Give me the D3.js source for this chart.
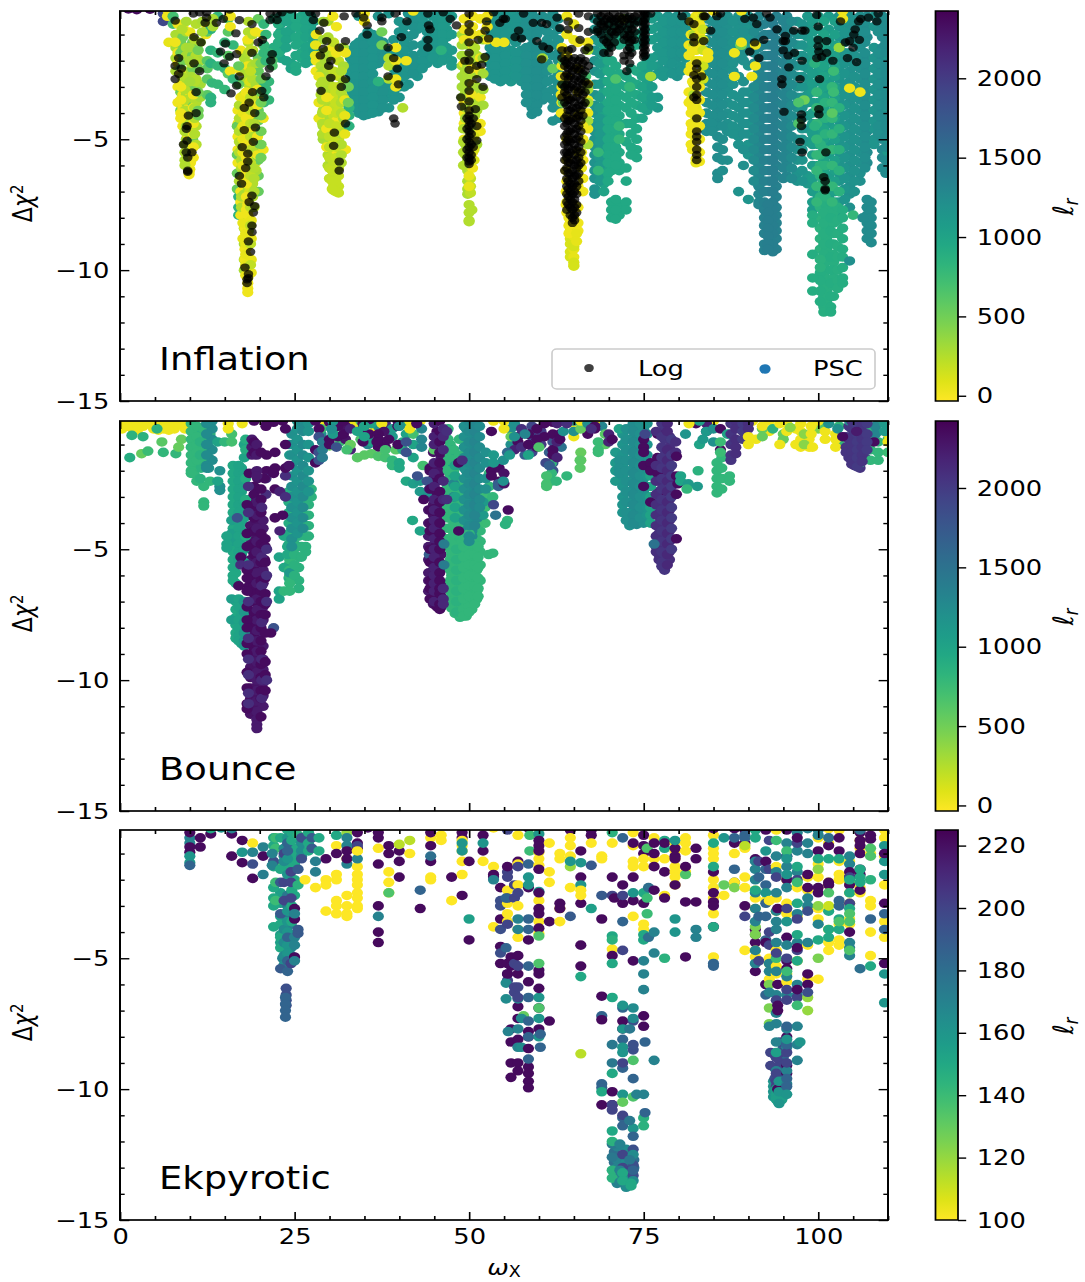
<!DOCTYPE html>
<html>
<head>
<meta charset="utf-8">
<script src="https://cdnjs.cloudflare.com/ajax/libs/d3/7.8.5/d3.min.js"></script>
<style>
	html, body { margin: 0; padding: 0; background: #fff; }
	svg { display: block; }
	text { font-family: "DejaVu Sans", sans-serif; fill: #000; }
</style>
</head>
<body>
<svg></svg>
<script>
// each column is [omega_X, l_r, [delta chi2 ...]]
const inflationBand = [
	[1.2,2350,[-.02]],[2.4,2350,[-.05]],[4.3,2350,[-.03]],
	[33,1150,[-1.6,-1.9,-2.2,-2.5,-2.8,-3.1,-3.4]],[34.2,1150,[-.3,-1.3,-1.6,-1.9,-2.2,-2.5,-2.8,-3.1,-3.4,-3.7,-4]],
	[35.5,1150,[-.9,-1.2,-1.5,-1.8,-2.1,-2.4,-2.7,-3,-3.3,-3.6,-3.9,-4.05]],[37,1170,[-.3,-1.2,-1.5,-1.8,-2.1,-2.8,-3.1,-3.4,-3.7,-3.95]],
	[38.5,1150,[-.2,-1.6,-1.9,-2.8,-3.1,-3.4,-3.8]],[40,1150,[-.5,-.9,-1.8,-2.1,-2.4,-2.7,-3,-3.4]],[41.3,1170,[-.2,-.6,-1.1,-1.5,-1.9,-2.2,-2.5,-2.9]],
	[42.6,1150,[-.2,-.5,-.8,-2,-2.3,-2.6]],[44,1150,[-.2,-.6,-.9,-1.2,-1.5,-1.8,-2.1]],[45.5,1120,[-.2,-.5,-.8,-1.1,-1.5,-1.8,-2.1]],
	[46.8,1100,[-.2,-.5,-.8,-1.1,-1.5,-1.8]],[23,1000,[-.3,-.6,-.9,-1.2,-1.6,-1.9]],[24.5,1000,[-.2,-.5,-.8,-1.1,-2.1,-2.3]],
	[26,950,[-.3,-.6,-.9,-1.3,-1.7,-1.9]],[27.3,1000,[-.3,-.7,-1,-1.4,-1.8,-2]],[22,900,[-.4,-1.5,-1.8]],
	[53,1150,[-.2,-.5,-.8,-1.1,-1.5,-1.8,-2.1,-2.4,-2.6]],[54.5,1150,[-.2,-.5,-.8,-1.1,-1.4,-1.7,-2,-2.3,-2.6,-2.8]],
	[56,1120,[-.2,-.5,-.8,-1.1,-1.6,-1.9,-2.2,-2.5,-2.8]],[57.5,1170,[-.2,-.5,-.8,-1.1,-1.6,-1.9,-2.2,-2.5,-2.8]],
	[59,1220,[-.2,-.5,-.8,-1.1,-1.4,-1.7,-2,-2.3,-2.6,-2.9,-3.2,-3.5,-3.8,-4.05]],[60.5,1220,[-.3,-.8,-1.4,-1.7,-2,-2.3,-2.6,-2.9,-3.2,-3.5]],
	[62,1200,[-.2,-.6,-1,-1.4,-1.8,-2.3,-2.7,-3.1,-3.5,-3.8,-4.3]],[68,1180,[-.4,-.8,-1.2,-1.6,-2,-2.4,-2.9,-3.3,-3.7,-4,-4.4,-4.7,-5,-5.3,-5.6,-5.9,-6.2,-6.5,-6.9,-7.1]],
	[69.3,1000,[-1,-1.4,-1.8,-2.2,-2.8,-3.2,-3.7,-4,-4.3,-4.6,-4.9,-5.2,-5.5,-5.8,-6.1,-6.4,-6.7,-7]],
	[70.4,950,[-.5,-.9,-1.3,-2,-2.5,-3,-3.4,-3.8,-4.2,-4.5,-4.8,-5.2,-5.5,-5.9,-6.2,-7.4,-7.7,-8]],[71.5,950,[-.5,-1,-1.4,-2.5,-2.9,-3.3,-3.7,-4.1,-4.4,-4.8,-5.5,-5.9,-6.2,-7.5,-7.9]],
	[72.5,950,[-.4,-.8,-1.3,-2.6,-3,-3.4,-3.8,-4.4,-5.1,-6.1,-6.6,-7.4,-7.7]],[74,950,[-.5,-1,-1.4,-2.4,-2.9,-3.3,-3.7,-4.2,-4.6,-5,-5.4,-5.7]],
	[75.5,1050,[-.3,-.8,-1.2,-2,-2.4,-2.8,-3.2,-3.6,-3.9]],[77,1100,[-.3,-.7,-1.1,-1.5,-1.8,-2.2,-2.5,-3.4,-3.8]],
	[78.5,1150,[-.3,-.7,-1.1,-1.5,-1.9,-2.3]],[79.8,1170,[-.3,-.7,-1.1,-1.5,-1.9,-2.4,-2.6]],[81,1150,[-.3,-.7,-1.1,-1.5,-1.9]],
	[84,1220,[-.4,-.8,-1.2,-1.6,-2,-2.4,-2.8,-3.2,-3.6,-4,-4.4,-4.7]],[85.6,1240,[-.3,-.7,-1.1,-1.5,-1.9,-2.3,-2.7,-3.1,-3.5,-3.9,-4.2,-4.5,-4.9,-5.3,-5.7,-6.3,-6.5]],
	[87,1200,[-.3,-.7,-1.1,-1.5,-1.9,-2.3,-2.7,-3.1,-3.6,-4,-4.4,-4.7,-5.8]],[88.6,1180,[-.3,-.7,-1.1,-1.5,-1.9,-2.6,-3.4,-3.8,-4.2,-4.6,-4.9,-5.2,-7]],
	[90,1150,[-.3,-.7,-1.1,-1.5,-2.2,-3.2,-3.6,-4,-4.4,-4.8,-5.2,-5.6,-7.3]],[91.5,1300,[-.3,-.7,-1.1,-1.5,-1.9,-2.4,-2.8,-3.2,-3.6,-4,-4.4,-4.8,-5.2,-5.6,-6,-6.4,-6.8,-7.1,-7.4,-7.5]],
	[93,1380,[-.4,-1,-1.4,-1.8,-2.2,-2.6,-3,-3.4,-3.8,-4.2,-4.6,-5,-5.4,-5.8,-6.2,-6.6,-7,-7.6,-7.9,-8.2,-8.5,-8.8,-9.1]],
	[94,1350,[-.3,-.8,-1.2,-1.6,-2,-2.4,-2.8,-3.2,-3.6,-4,-4.4,-4.8,-5.2,-5.6,-6,-6.4,-6.8,-7.2,-7.6,-7.9,-8.2,-8.5,-8.8,-9.2]],
	[95.5,1300,[-.3,-.7,-1.1,-1.5,-1.9,-2.3,-2.7,-3.1,-3.5,-3.9,-4.3,-4.7,-5.1,-5.5,-5.9,-6.4]],
	[97,1180,[-.5,-1,-1.4,-1.8,-2.2,-2.6,-3,-3.4,-3.8,-4.2,-5,-5.4,-5.8,-6.3,-6.6]],[98.5,1100,[-.3,-.7,-1.1,-1.5,-1.9,-2.3,-2.7,-3,-3.3,-3.6,-4.1,-4.6,-5.1,-6.4,-6.7]],
	[100,1050,[-.3,-.8,-1.2,-1.6,-2,-2.4,-2.8,-3.2,-3.6,-4,-4.4,-4.8,-5.2,-5.6,-6,-6.4,-6.8,-7.2]],
	[101.5,1080,[-.3,-.8,-1.2,-1.6,-2,-2.4,-2.8,-3.2,-3.6,-4,-4.4,-4.8,-5.2,-5.6,-6,-6.4,-6.8,-7.2,-7.6]],
	[103,1150,[-.3,-.7,-1.1,-1.5,-1.9,-2.3,-2.7,-3.1,-3.5,-3.9,-4.3,-4.7,-5.1,-5.5,-5.9,-6.3,-6.6,-7,-7.4,-7.9]],
	[104.5,1200,[-.3,-.7,-1.1,-1.7,-2,-2.4,-2.8,-3.2,-3.6,-4,-4.4,-4.8,-5.2,-5.6,-6,-6.4,-6.8,-7.1,-7.6]],
	[106,1200,[-.3,-.7,-1.1,-1.5,-1.9,-2.3,-2.7,-3.1,-3.5,-3.9,-4.3,-4.7,-5.1,-5.5,-5.9,-6.3,-6.6]],[107,1250,[-.3,-.7,-1.1,-1.9,-2.3,-2.7,-3.1,-3.5,-3.9,-4.3,-4.7,-5.1,-5.5,-5.9,-7.3,-7.6,-7.9,-8.2,-8.5,-8.8]],
	[108,1150,[-.3,-.7,-1.5,-1.9,-2.3,-2.7,-3.1,-3.5,-3.9,-4.3,-4.6,-5,-5.2]],[109.2,1250,[-.3,-.7,-1.1,-1.5,-1.9,-2.3,-2.7,-3.1,-3.5,-3.9,-4.3,-4.7,-5,-5.4,-5.7,-6.1]],
	[110,1100,[-2,-3,-4,-5,-5.5]]
];

// second pass over the same regions, between the columns above
const inflationFill = [
	[22.7,900,[-.6,-1,-1.3,-1.7]],[23.8,1000,[-.2,-.5,-.9,-1.2,-1.5,-2]],[25.2,950,[-.4,-.7,-1.1,-1.4,-1.8,-2.2,-2.4]],[26.6,1000,[-.2,-.5,-.8,-1.1,-1.5,-1.8,-2.1]],[27.8,1050,[-.5,-.9,-1.2,-1.6]],
	[33.7,1150,[-1.4,-1.7,-2,-2.3,-2.6,-2.9,-3.2,-3.5,-3.8]],[34.9,1170,[-1.1,-1.4,-1.7,-2,-2.3,-2.6,-2.9,-3.2,-3.5,-3.8,-4.1]],[36.2,1150,[-1,-1.3,-1.6,-1.9,-2.2,-2.5,-2.8,-3.1,-3.4,-3.7,-4]],
	[37.7,1170,[-1.3,-1.6,-1.9,-2.9,-3.2,-3.5,-3.8]],[39.2,1150,[-1.2,-1.6,-1.9,-2.3,-2.6,-2.9,-3.2,-3.5]],[40.7,1150,[-.7,-1,-1.3,-1.6,-2,-2.3,-2.6,-3]],[42,1170,[-.4,-.7,-1,-1.4,-1.8,-2.2,-2.5]],
	[43.3,1150,[-.4,-.7,-1.4,-1.7,-2,-2.3]],[44.8,1120,[-.3,-.7,-1,-1.3,-1.6,-1.9]],[46.2,1100,[-.4,-.7,-1,-1.3,-1.7,-2]],[47.5,1100,[-.3,-1,-1.6,-2,-2.2]],
	[53.7,1150,[-.3,-.6,-.9,-1.2,-1.6,-1.9,-2.2,-2.5,-2.7]],[55.2,1150,[-.3,-.6,-1,-1.3,-1.5,-1.8,-2.1,-2.4,-2.7]],[56.7,1150,[-.4,-.7,-1,-1.3,-1.7,-2,-2.3,-2.6]],[58.2,1200,[-.3,-.6,-1,-1.5,-1.8,-2.1,-2.4,-2.7,-3,-3.3,-3.6]],
	[59.7,1220,[-.4,-.7,-1,-1.5,-1.8,-2.1,-2.4,-2.7,-3,-3.3,-3.7,-3.95]],[61.2,1200,[-.4,-.9,-1.2,-1.6,-2.1,-2.4,-2.8,-3.2,-3.4]],[62.8,1200,[-.4,-.8,-1.2,-1.7,-2,-2.5,-2.9,-3.3,-3.7,-4.2]],
	[68.7,1100,[-.5,-.9,-1.3,-1.7,-2.1,-2.5,-2.9,-3.4,-3.8,-4.2,-4.5,-4.8,-5.1,-5.4,-5.7,-6,-6.3,-6.6]],[69.9,950,[-.7,-1.1,-1.5,-2,-2.4,-2.8,-3.2,-3.6,-3.9,-4.3,-4.6,-5,-5.3,-5.6,-5.9,-6.3,-6.6]],
	[71,950,[-.7,-1.2,-2.2,-2.7,-3.1,-3.5,-3.9,-4.3,-4.6,-5,-5.3,-5.7,-6,-7.3,-7.7,-8.05]],[73.2,950,[-.6,-1.1,-1.5,-2.3,-2.8,-3.2,-3.6,-4,-4.4,-4.8,-5.3,-5.6]],[74.8,1000,[-.5,-.9,-1.3,-2.2,-2.6,-3,-3.4,-3.8,-4.2]],
	[76.2,1080,[-.4,-.8,-1.2,-1.9,-2.2,-2.6,-3,-3.4,-3.7]],[77.8,1120,[-.5,-.9,-1.3,-1.7,-2,-2.4,-2.6]],[79.1,1150,[-.5,-.9,-1.3,-1.7,-2.1,-2.5]],[80.4,1150,[-.5,-.9,-1.3,-1.7,-2.2,-2.4]],[81.2,1150,[-.4,-.8,-1.2,-1.6]],
	[84.8,1220,[-.5,-.9,-1.3,-1.7,-2.1,-2.5,-2.9,-3.3,-3.7,-4.1,-4.4,-4.7]],[86.3,1220,[-.5,-.9,-1.3,-1.7,-2.1,-2.5,-2.9,-3.3,-3.7,-4.1,-4.5,-5,-5.4,-5.8,-6.2]],[87.8,1180,[-.5,-.9,-1.3,-1.7,-2.1,-2.4,-2.9,-3.3,-3.7,-4.1,-4.5,-4.8]],
	[89.3,1200,[-.5,-.9,-1.3,-1.7,-2,-2.8,-3.2,-3.6,-4,-4.4,-4.8,-5.4,-6]],[90.8,1250,[-.5,-.9,-1.3,-1.7,-2.1,-2.6,-3,-3.4,-3.8,-4.2,-4.6,-5,-5.4,-5.8,-6.2,-6.6]],[92.3,1350,[-.6,-1,-1.4,-1.8,-2.2,-2.6,-3,-3.4,-3.8,-4.2,-4.6,-5,-5.4,-5.8,-6.2,-6.6,-7,-7.4,-7.7,-8,-8.3,-8.6,-9,-9.25]],
	[93.5,1380,[-.6,-1,-1.4,-1.8,-2.2,-2.6,-3,-3.4,-3.8,-4.2,-4.6,-5,-5.4,-5.8,-6.2,-6.6,-7,-7.4,-7.7,-8,-8.3,-8.6,-9,-9.3]],[92.8,1380,[-7.5,-7.8,-8.1,-8.4,-8.7,-9,-9.2]],[95,1320,[-.5,-.9,-1.3,-1.7,-2.1,-2.5,-2.9,-3.3,-3.7,-4.1,-4.5,-4.9,-5.3,-5.7,-6.1,-6.5]],
	[96.2,1250,[-.5,-.9,-1.3,-1.7,-2.1,-2.5,-2.9,-3.3,-3.7,-4.1,-4.5,-4.9,-5.3,-5.7,-6.1,-6.5]],[97.7,1150,[-.6,-1,-1.4,-1.8,-2.2,-2.6,-3,-3.4,-3.8,-4.2,-4.6,-5,-5.4,-5.8,-6.2,-6.6]],[99.2,1080,[-.5,-.9,-1.3,-1.7,-2.1,-2.5,-2.9,-3.2,-3.6,-4,-4.4,-4.8,-5.2,-5.6,-6,-6.5,-7,-7.4,-7.7]],
	[100.8,1000,[-.5,-1,-1.4,-1.8,-2.2,-2.6,-3,-3.4,-3.8,-4.2,-4.6,-5,-5.4,-5.8,-6.2,-6.6,-7,-7.4,-7.8]],[102.4,1050,[-.5,-1,-1.4,-1.8,-2.2,-2.6,-3,-3.4,-3.8,-4.2,-4.6,-5,-5.4,-5.8,-6.2,-6.6,-7,-7.4]],[103.8,1150,[-.5,-.9,-1.3,-1.7,-2.1,-2.5,-2.9,-3.3,-3.7,-4.1,-4.5,-4.9,-5.3,-5.7,-6.1,-6.5,-6.9,-7.3]],
	[105.2,1180,[-.5,-.9,-1.3,-1.8,-2.2,-2.6,-3,-3.4,-3.8,-4.2,-4.6,-5,-5.4,-5.8,-6.2,-6.6,-7]],[106.7,1220,[-.5,-.9,-1.3,-1.7,-2.1,-2.5,-2.9,-3.3,-3.7,-4.1,-4.5,-4.9,-5.3,-5.7,-6.1]],[107.6,1250,[-7.4,-7.7,-8,-8.3,-8.6,-8.95]],[108.6,1200,[-.5,-.9,-1.7,-2.1,-2.5,-2.9,-3.3,-3.7,-4.1,-4.5,-4.8]],[109.7,1250,[-.5,-.9,-1.3,-1.7,-2.1,-2.5,-2.9,-3.3,-3.7,-4.1,-4.5,-4.9,-5.3,-5.8,-6.3]]
];

const inflationBandGreen = [
	[100.3,850,[-5.2,-5.6,-6,-6.4,-6.8,-7.2,-7.6,-8,-8.4,-8.8,-9.2]],[101.2,880,[-7.6,-8,-8.4,-8.8,-9.2,-9.6,-10,-10.4,-10.8,-11.2,-11.5]],[100.8,880,[-7.4,-7.8,-8.2,-8.6,-9,-9.4,-9.8,-10.2,-10.6,-11,-11.4,-11.6]],
	[102.2,880,[-7.8,-8.2,-8.6,-9,-9.4,-9.7,-10,-10.3,-10.6,-11]],[101.8,900,[-7.4,-8,-8.5,-9,-9.5,-10,-10.5,-11,-11.4,-11.6]],[102.8,880,[-7.6,-8.1,-8.6,-9.1,-9.5,-10,-10.4,-10.7]],[103.5,900,[-7.7,-8,-8.4,-8.8,-9.2,-9.5,-9.9,-10.3,-10.5]],
	[100.3,900,[-10.1,-10.4,-10.8,-11.2]],[99.2,900,[-7.9,-8.2,-9.4,-10.3,-10.8]],[100.3,850,[-9.6,-9.9]],[105,800,[-7.9]],[106.4,1250,[-8]],[104.5,1200,[-9.65]],
	[99.8,800,[-3.2,-3.8,-4.4,-5,-5.6,-6.2,-6.8,-7.4]],[101,850,[-3.6,-4.2,-4.8,-5.4,-6,-6.6,-7.2]],[102,800,[-3,-3.6,-4.2,-4.8,-5.4,-6,-6.8,-7.4]],[103,850,[-3.8,-4.6,-5.4,-6.2,-7]],
	[102,600,[-4]],[102.2,750,[-2.4,-3.2]],[98,500,[-3.5]],[97.2,650,[-3.6,-4.4]],[99.5,850,[-2.1,-4.5]],[103,350,[-1.5]],
	[106,30,[-3.2]],[89,400,[-1.4]],[88,30,[-1.7,-2.6]],[76,300,[-2.6]],[60.5,300,[-1.9]],[62,550,[-2.3]],[66.7,700,[-2.6]],
	[71,650,[-2.7]],[73,800,[-3]],[72,300,[-.4]],[55,30,[-1.3]],[68.5,800,[-5.5,-6.2]],[71.5,800,[-4.5,-5]]
];

const inflationDips = [
	[6.2,1900,[-.2,-.5]],[6.8,30,[-.05,-.3]],[7,60,[-1.3]],[7.6,700,[-.3,-.6]],[8,280,[-1,-1.5,-1.9,-2.4]],[8.3,30,[-.6,-1.7,-2.1,-3,-3.6]],
	[8.7,500,[-1.3,-1.7,-2.3,-3.2,-3.9]],[9,500,[-1.1,-1.6,-2,-3.4]],[9,30,[-.7,-2.8,-3.3,-3.8,-4.5]],[9.5,280,[-.5,-.9,-1.5,-1.8,-2.4,-2.9,-3.3,-3.6,-4.1,-4.5,-5]],[10,60,[-.9,-3.2,-3.7,-4.3,-4.9,-5.3,-5.7,-6.15]],[9.6,60,[-4.8,-5.2,-5.6,-6]],[10.1,30,[-4.6,-5.1,-5.5,-5.9]],
	[9.9,30,[-5.9,-6.25,-6.35]],[10.4,500,[-1.3,-1.8,-2.3,-3.1,-3.6,-4.3,-5]],[10.2,280,[-2.1,-2.6,-3.4,-3.9,-4.6]],[10.9,250,[-.6,-1.8,-2.7,-3.6,-4.5,-5.2]],[11.5,300,[-1.3,-2,-2.9,-3.4]],
	[12.3,30,[-.6,-1]],[12.5,600,[-.9,-2,-2.3,-2.7,-3.3]],[13,850,[-.8,-1.6,-2.1,-3.4,-3.6]],[13.2,800,[-2.85]],[14,800,[-.3,-1.7,-2.2,-2.9]],
	[15,800,[-1.3,-2.3,-3.1]],[15.5,600,[-.4,-.9,-1.8,-2.5]],[15.8,30,[-.3,-.7,-2.4]],[13.3,280,[-.4,-.7]],[11.8,280,[-.5,-.9]],
	[16.9,30,[-3.9,-4.4,-4.9,-5.4,-5.9]],[16.8,550,[-4.5,-5.6,-6.3,-6.9]],[17,850,[-7.2,-7.6,-7.9]],[17.3,30,[-1.6,-2.4,-3.4,-7,-7.4,-7.9]],[17.4,250,[-4.6,-5.2,-5.8,-6.1,-6.6,-7.2,-7.6]],
	[17.8,280,[-1.9,-2.3,-2.8,-3.3,-3.8,-4.2,-5,-5.7,-6.4,-7.1,-8.4,-9,-9.6,-10]],[17.9,30,[-8,-8.4,-8.8,-9.2,-9.6]],[18.4,250,[-.5,-.9,-1.3,-1.7,-2.1,-2.5,-2.9,-3.3,-3.7,-4.1,-4.5,-4.9,-5.3,-5.7,-6.1,-6.5,-6.9,-7.3,-7.7,-8.1,-8.5]],
	[18.3,30,[-1.2,-2.2,-7.5,-7.9,-8.3,-8.7,-9.1,-9.5,-9.9,-10.3,-10.5,-10.7,-10.85]],[18,60,[-8.6,-9,-9.4,-9.8,-10.2]],[18.8,60,[-6,-6.6,-7.2,-8.1,-8.8,-9.6,-10.1]],[18.6,120,[-2.8,-3.6,-4.4,-5.2,-6.4,-7]],
	[19,250,[-1,-1.6,-2.2,-2.7,-3.2,-3.7,-4.2,-4.7,-5.2,-5.7,-6.2,-6.7,-7.2]],[19.4,30,[-.9,-3.6,-4.1,-4.7,-5.4,-5.9]],[19.8,550,[-.4,-1.9,-2.4,-3,-3.9,-4.3,-5.4,-5.8,-6.4,-7]],[19.5,280,[-2.1,-2.9,-3.3,-5,-6.2]],
	[20.5,30,[-1,-1.4,-3.5,-4.2,-5.4]],[20.6,800,[-.6,-1.4,-1.7,-2.8,-3.2,-3.6]],[21.3,800,[-1.7,-2.8,-3.5]],[21.8,650,[-2,-2.2]],
	[28.1,30,[-1,-2,-2.4]],[28.8,250,[-2.2,-2.5,-2.9,-3.3]],[29.1,300,[-.5,-1.2,-1.7,-2.4,-3.6,-3.9,-4.2,-4.5,-5]],[29.4,280,[-2,-2.7,-3.1,-4,-4.7]],[29.8,250,[-.5,-1.1,-1.6,-2.3,-2.8,-3.2,-3.6,-4,-4.4,-4.8,-5.2,-5.6,-6]],
	[30.2,280,[-1.8,-2.6,-3.4,-3.8,-4.2,-4.6,-5,-5.4,-5.8]],[30.5,30,[-.3,-1.5,-3.4,-4.5,-5.2]],[30.6,200,[-1.3,-1.8,-2.4,-3,-3.8,-4.1,-4.7,-5.5,-5.9,-6.3,-6.6,-6.8,-6.95]],[31.3,180,[-2,-2.6,-3,-3.5,-3.9,-4.4,-5,-5.7,-6.1,-6.4,-6.8,-7.05]],[30.9,180,[-3.2,-3.6,-5.2,-6,-6.6,-7]],
	[31,30,[-.7,-1.7,-4.3,-5.6]],[32,280,[-1.5,-2.2,-2.8,-3.4,-4.2,-4.7]],[31.7,250,[-2.4,-3.2,-3.6,-4.6]],[32.3,30,[-1.7,-5.4]],[32.8,850,[-3.8,-4.1,-4.5]],[40.5,250,[-3.8]],[41,30,[-2]],[35,30,[-.2,-.5]],
	[37.5,500,[-.9,-1.4]],[38.5,250,[-1.9,-2.2,-2.7]],[39.5,30,[-1.5,-2,-2.7,-3]],[37,850,[-2.8]],[42,30,[-.1]],[46,850,[-1.6]],
	[49,300,[-1,-1.4,-1.8,-2.2,-2.6,-3,-3.4]],[49.3,30,[-.4,-.8,-1.2,-2.1,-3.6,-4,-4.4,-5]],[49.5,280,[-2.4,-2.8,-3.2,-3.8,-4.2,-4.6,-5.2,-5.6,-6]],[49.8,280,[-1.4,-1.8,-2.2,-2.6,-3,-3.4,-3.8,-4.2,-4.6,-5,-5.4,-5.8,-6.2,-6.6,-6.9,-7.1]],
	[50.2,200,[-6.1,-6.5,-6.8,-7.05]],[50.5,30,[-.3,-.7,-1,-1.4,-2.9,-3.9,-4.8,-5.5,-6.1]],[50.8,250,[-1.5,-2,-2.5,-3.1,-3.6,-4.1,-4.6]],[51.1,280,[-1.8,-2.4,-3,-3.4,-3.9,-4.4,-5.2]],[51.6,30,[-.4,-1,-1.9,-2.4,-3.4,-4.4,-4.7]],[52,300,[-1.2,-1.9,-2.5,-3.1,-3.7]],
	[50,250,[-7.5,-7.8,-8.1,-8.15]],[50.4,250,[-7.7]],[52.6,30,[-.3,-.7,-1.2]],[53.9,30,[-1.3]],
	[63.3,30,[-1.5,-2.2,-3,-3.6]],[63.5,550,[-2,-2.9,-3.6]],[64,30,[-.3,-1,-1.8,-2.6,-3.4,-4.2,-5,-5.8,-6.6,-7.4,-7.8]],[64.5,120,[-7.8,-8.2,-8.5,-8.8,-9,-9.3,-9.5]],
	[65,60,[-.6,-1.2,-7.5,-8,-8.4,-8.7,-9.2,-9.5,-9.8]],[65,130,[-8.2,-8.4,-9.1,-9.7,-9.85]],[65.6,30,[-1.3,-2.3,-3.2,-4.1,-5.5,-6.8,-7.6,-8.2,-8.5]],[66.1,60,[-4,-5.5,-6.1]],[67,30,[-1.3,-2.9,-3.5,-4,-4.6]],
	[67,300,[-1.6,-3.1,-3.6,-4.3,-5.2]],[63.2,30,[-2.6,-3.3,-4]],[66.3,30,[-4.5,-5,-5.8,-6.5,-7]],[63.9,30,[-6.2,-7,-7.5]],
	[81.5,30,[-1.4,-1.8,-2.4,-3.2,-3.6]],[81.8,30,[-.5,-1,-2.2,-3.5,-4,-4.4,-4.8,-5.2]],[82.2,250,[-1,-1.4,-2.9,-3.3]],[82.5,60,[-.3,-.7,-1.2,-1.6,-2,-2.5,-3,-3.4,-3.8,-4.2,-4.6,-5,-5.4,-5.75,-5.9]],
	[83,30,[-.2,-.6,-1,-1.4,-2,-2.5,-3,-3.5,-4,-4.5,-5,-5.5,-5.85]],[82,30,[-1.6,-2.8,-3.8,-4.6,-5.4]],[83.5,150,[-.3,-.8,-1.2,-1.6,-2.2,-2.7]],[84.2,30,[-1.7,-1.9]],[88.9,500,[-1.4]],
	[89,30,[-.1,-1.3]],[91,30,[-1.4,-2.2]],[90.5,30,[-2.6]],[104.5,30,[-3.05]],[85,30,[-.1]],[103.5,30,[-.1,-.4]]
];

// closes the remaining gaps inside the dips
const inflationDipFill = [
	[9.3,250,[-3.1,-3.5,-3.9,-4.2,-4.7,-5.2,-5.5,-5.8,-6]],[10.5,30,[-3.3,-3.8,-4.4,-4.8,-5.3,-5.7]],[8.7,30,[-2.5,-3,-3.5,-4,-4.2]],[10.7,250,[-1.2,-2,-2.8,-3.8,-4.2,-4.8]],[7.9,30,[-1.3]],[8.9,250,[-.8,-2.6]],[10,300,[-1.5,-2,-2.8]],[11.2,500,[-1.6,-2.3,-3.2,-3.9,-4.1]],
	[17.1,250,[-3.7,-4.2,-4.7,-5.1,-5.5,-6.6]],[17.6,60,[-3.4,-4,-4.5,-5,-5.5,-6,-6.5,-8.2,-8.8]],[18.1,30,[-3.2,-3.7,-4.2,-4.7,-5.2,-5.7,-6.2,-6.7,-7.2,-7.7]],[18.7,200,[-1.6,-2.4,-3.4,-3.9,-4.4,-4.9,-5.4,-5.9,-6.4,-7.6,-8.3,-9,-9.8]],[19.2,250,[-4.4,-4.9,-5.5,-6.1,-6.5,-7,-7.6]],[19.7,30,[-3.1,-3.7,-4.9,-5.6]],[20.2,500,[-2.1,-2.7,-3.2,-3.6,-4.1,-4.7,-5.2,-5.7]],[17,550,[-2.2,-2.9]],[16.2,800,[-1.4,-2.7]],[20.9,800,[-1,-2,-3.1]],
	[28.5,60,[-2.6,-3.6,-4.2]],[29,250,[-2.8,-3.2,-3.5,-4,-4.4,-4.8]],[29.6,30,[-3.4,-3.9,-4.6,-5.3]],[30,200,[-4.4,-4.9,-5.3,-5.7,-6.1,-6.5]],[30.4,180,[-6.2,-6.6,-6.9]],[31,180,[-4,-4.5,-4.9,-5.3,-5.7]],[31.7,250,[-4,-4.8,-5.2,-5.6,-5.9]],[32.2,60,[-3.5,-4.1,-4.8]],[28,60,[-1.4,-1.8]],[32.7,500,[-3,-3.6]],
	[49.2,250,[-4.6,-5.1,-5.5,-6]],[50,60,[-6.4,-6.8]],[50.7,120,[-4.9,-5.4,-5.8]],[50.3,30,[-2.3,-3.3]],[64.3,30,[-8,-8.3,-8.6]],[65.4,60,[-8.6,-8.9]]
];

// [omega_X, [delta chi2 ...]] for the Log points
const inflationLog = [
	[7.9,[-.47,-2.2,-2.7]],[8.4,[-1.9,-2.5]],[8.8,[-2.3]],[10.6,[-1.1,-2.1]],[11.6,[-1.3]],[11.4,[-2.4,-.15]],[10.9,[-3.2,-4]],[9.8,[-4.1]],[9.6,[-4.5,-5.05]],[9.5,[-4.6,-5.5]],[9.1,[-5.2]],[10.3,[-5.5]],[9.7,[-5.7,-6.2,-6.25]],
	[18.2,[-10.5,-10.35]],[18.4,[-10.3,-10.15,-8.9]],[17.9,[-9.9]],[18.7,[-9.3]],[18.9,[-8.55,-8.3,-7.15,-1.7,-.6]],[18.5,[-7.4,-3.6]],[19.3,[-7.55,-4]],[19.1,[-7.8,-5.1]],[17.4,[-6.7]],[17.1,[-6.4,-2.6,-.45]],[18,[-6.1]],[18.3,[-5.85,-5.55]],[17.5,[-5.3]],[17.8,[-4.65,-3.8]],[19.4,[-4.55]],[19,[-3.2]],[20.3,[-3.15]],[20.6,[-3.4]],[16.7,[-2.95,-1.75]],[20.9,[-2.6]],[21.4,[-2.3]],[21.6,[-2]],[21.8,[-1.75]],[14.9,[-2.1]],[15.7,[-1.85,-.05]],[15.1,[-1.35]],[14.4,[-1.65]],[16.6,[-.95]],[19.8,[-1.3]],[20.4,[-1.2]],[13.8,[-.55]],[14.8,[-.4]],[12.2,[-.55]],[12.4,[-.35,-.15]],[10.5,[-.2]],[15.9,[-3.25]],
	[21.5,[-.2,-.45]],[22.5,[-.2,-.45]],[23.2,[-.15]],[24.4,[-.05]],
	[31.4,[-6.2,-5.85,-1.5]],[30.6,[-5.25]],[30.7,[-4.75]],[32.3,[-4.4,-2.7,-1.25]],[28.8,[-3.15]],[31.7,[-3]],[30.2,[-2.65,-2]],[29.9,[-2.2]],[28.7,[-1.8]],[29.1,[-1.55]],[29.6,[-1.25]],[28.6,[-.85]],[29.2,[-.55]],[27.7,[-.45]],[28,[-.2]],[27.2,[-.15]],[32.1,[-.3]],[33.8,[-.2]],[34.9,[-.35]],[35.4,[-.65,-1]],[37.5,[-.35,-.5]],[39.4,[-.2,-4.4]],[41.1,[-.5]],[38.4,[-1.5,-2.6]],[39.2,[-1.9,-4.2]],[39.7,[-2.3]],[39.9,[-2.9]],[40.3,[-1.1]],[44.2,[-.65]],[44.4,[-.8]],[44.1,[-1.2,-1.5,-.2]],[46.3,[-.15]],[47.3,[-.4]],[48.2,[-.65]],
	[50,[-.2,-.6,-.9,-1.3,-1.7,-2,-2.35,-2.85,-3.15,-3.55,-3.9,-4.1,-4.3,-4.5,-4.7,-4.9,-5.1,-5.3,-5.5,-5.7,-5.85,-5.95]],[49.4,[-2]],[50.3,[-4.4,-4.8,-5.2,-5.6,-5.8]],[49.7,[-4.2,-4.6,-5,-5.4,-5.7]],[51.1,[-2.2,-2.7,-4.5,-5.05]],[51.8,[-2.15]],[52.3,[-1.85,-.85]],[51.3,[-1.2]],[52.8,[-1.15]],[52.5,[-.5]],[52,[-3]],[48.8,[-3.4]],[48.9,[-3.75]],[50.9,[-3.85]],[50.6,[-4.2,-5.3]],[54.4,[-.55]],[53.5,[-.15]],[54.9,[-.4]],
	[55.2,[-.4]],[57.8,[-.2]],[57.1,[-.85]],[56.6,[-1.1]],[57.5,[-1.15]],[59.2,[-.55]],[60.4,[-.55,-1.95]],[61.1,[-.6]],[59.7,[-1.25]],[60.6,[-1.45]],[61.4,[-1.55]],[62.6,[-.35]],[63,[-.75]],[64.2,[-.5,-.8]],[65.7,[-.75,-.2]],[67.1,[-.9,-.3,-1.5,-2.2,-2.9]],[65.9,[-1.2]],[63.3,[-1.6,-1.9,-2.9,-3.4]],[64.7,[-1.55]],
	[63.7,[-2,-2.2,-2.6,-3,-3.2,-3.6,-4.2,-4.5,-4.9,-5.2,-5.5,-5.8,-6.2]],[64.2,[-1.6,-1.9,-2.3,-2.7,-3.1,-3.5,-3.9,-4.3,-4.7,-5,-5.3,-5.6,-5.9,-6.3,-6.6,-6.9,-7.2,-7.5]],
	[64.8,[-2,-2.4,-2.9,-3.4,-3.8,-4.2,-4.6,-5,-5.4,-5.8,-6.2,-6.5,-6.8,-7.1,-7.4,-7.7,-8,-8.2]],[65.4,[-2.2,-2.6,-3,-3.4,-3.8,-4.2,-4.6,-5,-5.4,-5.8,-6.1,-6.4,-6.8,-7.1,-7.5,-7.8]],
	[66,[-1.9,-2.3,-2.7,-3.1,-3.5,-3.9,-4.3,-4.7,-5.1,-5.5,-5.9]],[66.6,[-1.6,-2,-2.4,-2.8,-3.2,-3.6]],
	[64,[-2.1,-2.5,-2.9,-3.3,-3.7,-4.1,-4.4,-4.8,-5.1,-5.5,-5.7,-6.1,-6.5,-6.8,-7.1,-7.4,-7.7]],[64.5,[-2.2,-2.6,-3,-3.5,-3.9,-4.3,-4.7,-5.1,-5.5,-5.9,-6.3,-6.7,-7,-7.3,-7.6,-7.9]],[65.1,[-1.9,-2.3,-2.7,-3.1,-3.6,-4,-4.4,-4.8,-5.2,-5.6,-6,-6.4,-6.7,-7,-7.3,-7.6,-7.9,-8.1]],[65.7,[-2,-2.4,-2.8,-3.2,-3.7,-4.1,-4.5,-4.9,-5.3,-5.7,-6,-6.3,-6.6]],[66.3,[-2.1,-2.5,-2.9,-3.3,-3.7,-4.1]],
	[68.4,[-.2,-.5,-.8,-.9]],[69.3,[-.2,-.5,-.7,-1.2,-1.7]],[70,[-.3,-.6,-1.1,-1.4,-1.7]],[70.8,[-.2,-.5,-.7,-1,-1.3]],[71.5,[-.3,-.6,-.8]],[72.2,[-.2,-.5,-1,-1.2,-1.8,-2]],[73,[-.3,-.6,-1,-1.3,-1.5,-1.8,-2.1]],[72.6,[-2.4]],[73.7,[-.3,-.6,-.9,-1.2]],
	[68.9,[-.3,-.6,-1]],[69.7,[-.4,-.8,-1.3]],[70.4,[-.4,-.9,-1.5]],[71.1,[-.4,-.9]],[71.9,[-.4,-.7]],[72.7,[-.4,-.8,-1.1,-1.6]],[73.3,[-.4,-.8,-1.2,-1.7]],[74.2,[-.2,-.5]],
	[75,[-.1,-.3,-.5,-.7,-.9,-1.1,-1.3,-1.5,-1.7,-1.85]],[75.2,[-.2,-.4,-.6,-.8,-1,-1.2,-1.4,-1.6,-1.8]],[76,[-.2]],
	[80.5,[-.3]],[81.5,[-.5]],[82.2,[-.6,-1.1,-1.3]],[83.6,[-1.25,-.3]],[82.6,[-2.1,-2.3,-2.7,-3,-3.5,-3.3,-4.2,-4.7,-4.9,-5.1,-5.4,-5.6,-5.8]],[82.2,[-2.55,-3.4]],[83.3,[-2.6]],[84.6,[-.85]],[83.8,[-.3]],[85.5,[-.3]],[86,[-.2]],
	[89.5,[-.4]],[90.7,[-.35]],[91.2,[-.6]],[93.1,[-.35]],[92.6,[-.2]],[94.1,[-.8]],[95.3,[-1.05,-1.25]],[96.5,[-.85]],[97.7,[-.85]],[98.1,[-.85]],[99.8,[-.25]],[100,[-.7,-1.2,-1.45]],[101.2,[-1.25]],[100.1,[-1.65]],[103.2,[-.5]],[105.3,[-.8]],[105.1,[-1]],[105.8,[-.5]],[107.2,[-.35]],[108.6,[-.2]],[108.4,[-.5]],[106.1,[-.4]],[104.5,[-1.25]],[103.9,[-1.3]],[105,[-1.5]],[105.9,[-1.2]],
	[90.9,[-1.3]],[92.2,[-1.2]],[90.2,[-1.65]],[91.5,[-1.9]],[95,[-1.25,-1.6]],[95.7,[-1.8]],[96.6,[-1.7]],[97.7,[-2]],[99.8,[-1.9]],[100.5,[-1.85]],[101.2,[-1.7]],[102.1,[-2]],[104.2,[-1.9]],[105.5,[-2.05]],[95.8,[-2.25]],[94.8,[-2.7,-2.9]],[97.4,[-2.7]],[100.2,[-2.7]],[95.1,[-3.95]],[97.6,[-4.05,-4.25,-4.5]],[100.1,[-3.85,-4.05]],[97.4,[-5.1]],[97.7,[-5.5]],[101.1,[-5.5]],[100.8,[-6.45]],[101,[-6.6,-6.9,-6.95]]
];

const bounceTop = [
	[28.8,1200,[-.2,-.6]],[30,800,[-.3]],[33,30,[-.2]],[34,1250,[-.2,-.4]],[36.5,30,[-.1,-.4]],[37,1250,[-.3]],[38,2100,[-.2,-.4]],[40,30,[-.1]],[41,1000,[-.2,-.6]],[43,30,[-.1]],[42,700,[-.6]],[30,550,[-1.05]],[31.5,750,[-.9]],[35.5,1300,[-1]],[39.5,600,[-1.2]]
];

const bounceFill = [
	[10.6,800,[-.5,-.9,-1.2,-1.5,-1.8,-2.1]],[11.6,850,[-.4,-.7,-1.1,-1.6,-1.9]],[12.7,1200,[-.3,-.7,-1.1,-1.5,-1.9]],[16.6,950,[-2,-2.3,-2.6,-2.9,-3.2,-3.5,-3.8,-4.1,-4.4,-4.7,-5,-5.3,-5.6,-5.9,-6.3,-7,-7.3,-7.6,-7.9,-8.2,-8.4]],[17.4,1000,[-1.9,-2.2,-2.5,-2.8,-3.1,-3.4,-3.7,-4,-4.3,-4.6,-4.9,-5.2,-5.5,-7.1,-7.5,-7.9,-8.2,-8.6]],
	[24.2,900,[-2.8,-3.2,-3.6,-4,-4.4,-4.8,-5.2,-5.6,-6.1]],[25.6,850,[-2.9,-3.3,-3.7,-4.1,-4.5,-4.9,-5.3,-5.7,-6.2,-6.5]],[26.6,850,[-2.9,-3.3,-3.7,-4.1,-4.5,-4.9,-5.1]],
	[29,30,[-.2]],[28.8,750,[-.4]],[30.5,700,[-.5]],[31.5,600,[-.2,-.3]],[33.5,30,[-.1,-.3]],[34.5,650,[-.1,-.8]],[36,1000,[-.2,-.9]],[37.5,30,[-.2]],[39,1100,[-.4,-.7]],[40.5,900,[-.9,-1.2]],[41.5,30,[-.1,-.4]],[42,1000,[-1,-1.5]],[43.2,1300,[-.4,-.8,-1.1]],
	[32.3,2300,[-.3,-.8]],[34.8,2350,[-.2,-.4,-.9]],[37.8,2300,[-.5,-.9]],[39.8,2350,[-.1,-.3,-1]],[31.2,2350,[-.3,-.7]],[28.5,2350,[-.4]],
	[44.9,2300,[-1.3,-1.9,-2.3,-2.9,-3.3,-3.7,-4.1,-4.5,-4.9,-5.2,-5.5,-5.8,-6.1,-6.4,-6.8,-7.1]],[44.2,2250,[-3.5,-4,-4.5,-4.9,-5.4,-5.9,-6.2,-6.6]],[45.4,2350,[-.5,-1.1,-2.4,-2.9,-3.4,-3.8,-4.3,-4.8,-5.2,-5.6,-6,-6.4,-6.9,-7.2]],[46,2300,[-1.5,-2,-3.4,-3.8,-4.2,-4.5,-5.2,-5.7,-6.3,-6.8,-7.2]],
	[46.9,800,[-1.8,-2.6,-3,-3.4,-3.8,-4.2,-4.6]],[47.3,800,[-1,-1.4,-1.8,-2.2,-2.6,-3,-3.4,-3.8,-4.2,-4.6,-5,-5.4,-5.8,-6.2,-6.6,-6.95]],[48,800,[-2.8,-3.2,-3.6,-4,-4.4,-4.8,-5.2,-5.6,-6,-6.4,-6.8,-7.2,-7.45]],[48.7,820,[-2.6,-3,-4.2,-4.6,-5,-5.4,-5.8,-6.2,-6.6,-7,-7.4,-7.6]],[49.6,800,[-4.2,-4.6,-5,-5.4,-5.8,-6.2,-6.6,-7,-7.4,-7.55]],[50.4,800,[-4.2,-4.6,-5,-5.4,-5.8,-6.2,-6.6,-7,-7.3]],[51.1,800,[-4.2,-4.6,-5,-5.4,-5.8,-6.2,-6.6,-6.9]],[51.6,800,[-3.9,-4.3,-4.7,-5.1,-5.6,-6.2]],
	[51,700,[-3.2,-3.7]],[52.3,750,[-2.9,-3.4,-4]],[52.9,800,[-2.1,-2.6,-3.2]],
	[47.8,1000,[-1.2,-1.8,-2.2,-2.8]],[49.6,1250,[-.4,-.8,-1.2,-1.6,-2,-2.4,-2.8,-3.2,-3.6,-4,-4.3]],[50.4,1250,[-.3,-.7,-1.1,-1.5,-1.9,-2.3,-2.7,-3.1,-3.5,-3.9,-4.3,-4.5]],[51.2,1280,[-.3,-.7,-1.1,-1.5,-1.9,-2.3,-2.7,-3.1,-3.5,-3.8]],
	[71,1100,[-1.3,-1.7,-2,-2.4]],[72,1150,[-.6,-1,-1.4,-1.8,-2.2,-2.6,-3,-3.3,-3.6]],[73,1200,[-.4,-.8,-1.2,-1.6,-2,-2.4,-2.8,-3.2,-3.6,-4.1]],[74,1250,[-.4,-.8,-1.2,-1.6,-2,-2.4,-2.8,-3.2,-3.6,-4,-4.05]],[75,1200,[-.4,-.9,-1.2,-1.5,-2,-2.3,-2.8,-3.2,-3.6,-4]],
	[77.2,2100,[-1.6,-2,-2.4,-2.8,-3.2,-3.6,-4,-4.4,-4.8,-5.2,-5.4]],[78,2050,[-.4,-.8,-1.2,-1.6,-2,-2.4,-2.8,-3.2,-3.6,-4,-4.4,-4.8,-5.2,-5.6,-5.8]],[78.7,2100,[-.7,-1.1,-1.5,-1.9,-2.3,-2.7,-3.1,-3.5,-3.9,-4.3,-4.7,-5.1,-5.4]],
	[62,1800,[-.9,-1.3,-1.7,-2]],[61.8,800,[-1.7,-2.1,-2.4]],[63.2,1500,[-1.1]],[65,30,[-.2,-.7]],[65,1200,[-.1,-.5]],[67,2350,[-.1,-.6]],[66,550,[-.4,-1.3,-1.6]],[69,1300,[-.3]],[69.5,600,[-.6,-1]],[68,30,[-.1]],
	[56,1200,[-.4,-1]],[57,2350,[-.7,-.9]],[58,1700,[-1.4]],[59,1900,[-.3,-.7,-1.3]],[60.3,2000,[-.5,-1]],[60.8,2350,[-.2,-.7]],
	[85,30,[-.1]],[84,2200,[-.2,-.5]],[82.5,2350,[-.2]],[83,1000,[-.1,-1]],[88,1200,[-.8]],[90.6,30,[-.1]],[93,30,[-.1,-.5]],[95,550,[-.6,-.8]],[96.8,30,[-.4,-1]],[98.7,30,[-.8,-1.1]],[100,450,[-.4]],[103,800,[-.3,-.9]],
	[104.4,2050,[-.3,-.8,-1.2,-1.5]],[105.2,2100,[-.2,-.6,-1,-1.4,-1.8]],[106,2050,[-.4,-.8,-1.2,-1.6,-1.9]],[106.7,2000,[-.3,-.7,-1.1,-1.5]],
	[18.7,2300,[-3.1,-3.6,-4.1,-4.6,-5,-5.4,-5.8,-6.2,-6.6,-7,-7.4,-7.8,-8.2,-8.6,-9.1,-9.5,-9.9,-10.3,-10.7,-11,-11.3]],[19.7,2300,[-2.3,-2.7,-3.4,-4,-4.6,-5,-5.4,-5.8,-6.2,-6.6,-7,-7.4,-7.8,-8.2,-8.6,-9,-9.4,-9.8,-10.2,-10.6,-11]],[20.5,2250,[-3.9,-4.2,-4.6,-5,-5.8,-6.3,-6.8,-7.2,-7.7,-8.2,-8.7,-9.2,-9.6,-10.1,-10.6,-11]]
];

const bounceColumns = [
	[.3,30,[-.1,-.4]],[1.8,30,[-.1,-.4]],[3.3,30,[-.1,-.3]],[4.8,30,[-.1,-.4]],[6.3,30,[-.1,-.4]],[7.8,30,[-.1,-.4]],[9.3,30,[-.1,-.4]],[1,30,[-.3]],[2.5,30,[-.2,-.45]],[4,30,[-.2]],[5.5,30,[-.2,-.45]],[7,30,[-.2,-.45]],[8.5,30,[-.2]],
	[1.4,900,[-1.5]],[1.7,850,[-.65]],[3.3,850,[-.7]],[3.1,550,[-1.35]],[4,750,[-1.25]],[6,600,[-.9]],[5.3,850,[-.4]],[6.2,800,[-1.3]],[8,800,[-1.35]],[8.8,550,[-.8]],[8.4,550,[-1.1]],
	[10.2,800,[-.2,-.5,-.8,-1.1,-1.4,-1.7,-2,-2.1]],[11,800,[-.3,-.7,-1,-1.3,-1.6,-2.4]],[12,800,[-.4,-.8,-1.2,-1.6,-2.6,-3.2,-3.35]],[11.5,850,[-.9,-1.4,-2.3]],[12.9,800,[-.3,-.6,-2.4]],[13.2,1250,[-.1,-.4,-.8,-1.2,-1.6]],[12.4,1250,[-.2,-.6,-1,-1.4,-1.8,-1.9]],[14.3,1200,[-2,-2.6,-2.75]],[14,1000,[-.9,-2.4]],
	[15,800,[-.9]],[16,700,[-.6,-.9]],[15.5,30,[-.2,-.4]],[17.5,30,[-.2]],
	[16.2,950,[-1.8,-2.1,-2.4,-2.7,-3,-3.3,-3.6,-3.9,-4.2,-4.5,-4.8,-5.1,-5.4,-5.7,-6,-6.2]],[16,1050,[-3.9,-4.4,-4.7,-6.9,-7.7]],[15.3,1000,[-4.5,-4.8,-4.95]],[17,1000,[-1.8,-2.1,-2.4,-2.7,-3,-3.3,-3.6,-3.9,-4.2,-4.5,-4.8,-5.1,-5.4,-6.9,-7.2,-7.7,-8,-8.3,-8.5]],
	[17.8,1100,[-7,-7.4,-7.8,-8.2,-8.5,-8.7]],[17.8,1000,[-1,-1.5,-2.1,-2.6,-3.2,-3.8,-4.4,-5,-5.5]],[18,900,[-.8,-1.2,-2.3,-3.1,-4.5]],
	[23.5,950,[-4.5,-5.7]],[22.8,1000,[-5.3,-6.6,-6.9]],[23.5,800,[-6.6]],[24.3,800,[-5.4,-5.8,-6,-6.3,-6.6]],[24.3,1100,[-5.9,-1,-1.4]],[24,950,[-4.9,-5.2]],
	[25,850,[-3,-3.5,-4,-4.4,-4.8,-5.2,-5.6,-6]],[26,850,[-3.1,-3.5,-3.9,-4.4,-4.9,-5.3]],[27,850,[-2.9,-3.3,-3.7,-4.1,-4.5]],[27.4,850,[-2.7,-3]],
	[24.6,1200,[-.6,-1,-1.4,-1.8,-2.2,-2.6,-3,-3.4,-3.8,-4.2,-4.6,-4.9]],[25.4,1150,[-.1,-.4,-.8,-1.2,-1.6,-2,-2.4,-2.8,-3.2,-3.6,-4,-4.4]],[26.2,1250,[-.2,-.5,-1,-1.4,-1.8,-2.2,-2.6,-3,-3.4,-3.8,-4.2]],[27,1150,[-.2,-.5,-1,-1.5,-2,-2.4,-2.8]],
	[21,2350,[-.2,-1.4,-2]],[20.9,2100,[-2.3,-2.9]],[22.2,2350,[-1.3,-1.9,-2.7,-3.8]],[23.3,2350,[-.1,-3.7]],[22.9,2200,[-2.8,-4.3]],[23.7,2100,[-2.2,-3]],[22,2350,[-.15,-2.1]],[23.7,2350,[-.4,-1,-1.9]],[24.2,2300,[-1.8]],
	[17.3,2350,[-5.3]],[16.8,1800,[-3.8]],[17.3,2100,[-5.6]],[17,2350,[-6.4]],[18.5,2350,[-6.4,-6.5,-2.1]],[20.7,2350,[-5.4,-2.3]],[22,1800,[-8]],[21.6,2350,[-8.2]],[20.9,2350,[-.3]],
	[18.9,2250,[-.8,-1.1,-1.4]],[19.2,2350,[-.1,-.9,-1.3,-2.6,-2.9,-3.4,-3.8,-4.3,-4.8,-5.2,-5.6,-6,-6.4,-6.7,-7,-7.4,-7.7,-8,-8.4,-8.8]],
	[19.6,2250,[-1,-1.4,-2,-2.2,-3.2,-3.7,-4.2,-4.7,-5.1,-5.5,-5.9,-6.3,-6.9,-7.3,-7.7,-8.1,-8.5,-8.9,-9.3,-9.7,-10,-10.4,-10.8,-11.2,-11.5,-11.7,-11.85]],
	[18.2,2350,[-3.3,-4.4,-4.9,-5.8,-6.1,-6.6,-7.2,-7.7,-8,-8.6,-9,-9.7,-10.3,-10.9,-11.1]],[18.4,2100,[-2.6,-3.6,-5.6,-7,-8.4,-9.2,-9.8,-10.5,-10.9]],
	[20.2,2350,[-1.3,-2.7,-3.1,-3.6,-4.4,-4.8,-5.5,-6.2,-6.6,-7,-7.5,-8,-8.5,-8.9,-9.4,-9.9,-10.4,-10.7,-11.4]],[20.3,2150,[-3.4,-5.3,-6.4,-7.8,-9.2,-10,-10.7]],
	[20.8,2350,[-4.6,-4.9,-5.5,-6.1,-6.7,-7.1,-7.5,-8.2,-9.3,-9.8,-10.4]],[21,2100,[-5,-6,-7,-10]],
	[28,2350,[-.1,-1.2,-1.7]],[28.5,1800,[-.7,-1.3,-1.6]],[29,1400,[-.9,-1.2,-1.5]],[30,2350,[-.15,-.8,-1]],[30.5,1100,[-.6,-.1]],[31,1800,[-1.1]],[30.3,1200,[-.4]],
	[32,2350,[-.1,-.6]],[33,2200,[-.4,-1.2]],[35.7,2350,[-.05,-.6]],[34,1000,[-.5]],[35,1000,[-.3,-.7]],[37,2350,[-.6,-.8,-1.1]],[38.5,2350,[-.8]],[36.8,2350,[-.9]],[38,2350,[-1.1]],[40,1200,[-.3]],[41,1800,[-.9,-1.3]],[42.5,2350,[-.2]],
	[33,550,[-1]],[32.5,700,[-1.2]],[34,600,[-1.5]],[35,600,[-1.4]],[36,600,[-1.35]],[37,650,[-1.45]],[38,700,[-1.5,-1.2]],[39,800,[-1.6,-1.8]],[40,950,[-1.7,-1.9]],[41,950,[-2.4]],[42,1050,[-2.5]],[43,1100,[-2.4,-2.8]],[43.4,700,[-1.8]],[44,1150,[-3]],[41.9,950,[-3.9]],[43,1000,[-4.3]],[45,600,[-1.2]],[42.6,1800,[-2.2]],[44,1800,[-2.4]],[43.5,2350,[-3.1]],
	[47,800,[-.4,-.8,-1.2,-1.6,-2,-2.4,-2.8,-3.2,-3.6]],[47.8,800,[-1.2,-1.6,-2,-2.4,-2.8,-3.2,-3.6,-4,-4.4]],[48.6,800,[-.8,-1.4,-2.4,-2.8,-3.2,-3.6,-4,-4.4,-4.8,-5.2,-5.6,-6,-6.4,-6.8,-7.2,-7.5]],
	[47.5,800,[-4.8,-5.2,-5.6,-6,-6.4,-6.8,-7,-7.25]],[48.2,850,[-5,-5.4,-5.8,-6.2,-6.6,-7,-7.4]],[49.2,800,[-4.5,-4.9,-5.3,-5.7,-6.1,-6.5,-6.9,-7.3,-7.55]],[50,800,[-4.4,-4.8,-5.2,-5.6,-6,-6.4,-6.8,-7.2,-7.4]],[50.8,800,[-4.8,-5.2,-5.6,-6,-6.4,-6.8,-7.1]],[51.3,800,[-4.9,-5.3,-5.7,-6.1,-6.5,-6.8]],[52.8,800,[-5.2]],[53.4,800,[-5.15]],[55.5,800,[-3.9]],[52,1100,[-3.2,-3.7]],[53.4,800,[-3]],
	[44.3,1700,[-2.7,-5.2]],[44.4,2350,[-1.9,-2,-2.7,-3.5,-4,-4.3,-5,-5.5,-6.2,-6.5,-6.9]],[45,2200,[-.2,-.7,-1,-1.7,-2.1,-2.6,-3.1,-3.5,-3.9,-4.2,-4.6,-5,-5.3,-5.7,-6,-6.3,-6.6,-7]],[45.8,2350,[-.1,-.5,-.9,-1.3,-1.7,-2.3,-2.8,-3.2,-3.6,-4,-4.4,-4.7,-5,-5.5,-5.9,-6.2,-6.5,-6.7,-7.1,-7.3]],[46.3,2150,[-.4,-.7,-1.2,-2.4,-3.1,-6.5,-6.9,-7.1]],[46.4,1400,[-4.8,-5.6]],[47.8,1300,[-2.5,-3]],
	[48,1000,[-1.8,-2.2,-2.6,-3,-3.4,-3.8]],[49.3,1200,[-.3,-.7,-1.1,-1.5,-1.9,-2.3,-2.7,-3.1,-3.5,-3.9]],[50,1250,[-.1,-.5,-.9,-1.3,-1.7,-2.1,-2.5,-2.9,-3.3,-3.7,-4.1,-4.5,-4.7]],[50.8,1300,[-.1,-.5,-.9,-1.3,-1.7,-2.1,-2.5,-2.9,-3.3,-3.7,-4.1]],[51.5,1250,[-.3,-.7,-1.1,-1.5,-1.9,-2.3,-2.7,-3.1,-3.4]],[52.4,1200,[-1.3,-1.7,-2.3,-2.7]],[48.5,2350,[-1.7,-4.3]],[46.8,2100,[-.5,-3.1]],[49,2100,[-1.6]],
	[53.2,2350,[-.5,-2,-2.2]],[54.3,2350,[-1.9,-2.4]],[54.2,1700,[-2.5,-2.6]],[53.8,1500,[-3.7]],[53.5,1900,[-3.3]],[55,2300,[-2.1,-2.5]],[54.9,1200,[-1.6,-2.4]],[53.5,1100,[-1.4,-1.7]],[55.6,2350,[-3.5]],[55.2,850,[-4.05]],[53.5,30,[-.1]],[55,30,[-.1,-.4]],[56,550,[-.7]],
	[56.5,1200,[-.2,-.7]],[56.5,2200,[-1.2]],[57.5,2100,[-.4,-1.1]],[58.5,2350,[-.6,-1]],[59.7,2350,[-.4,-.8,-1.1]],[58,1300,[-.6]],[58.5,1000,[-1.4]],[55.5,1600,[-1.3]],[55.8,1100,[-1.4]],[60,650,[-1.1]],
	[61,1900,[-1.7]],[61.5,1700,[-1.3,-1.8]],[62,2350,[-.15,-.6,-1.2,-1.4]],[62.6,2200,[-.2,-.9,-1.5]],[63,2350,[-.6,-.8]],[61.1,700,[-2.2,-2.5,-2.6]],[62.5,800,[-2.4]],[64,800,[-2.2]],[63.5,1200,[-.5]],
	[64,2100,[-.1,-.2]],[65.9,600,[-1.6,-1.9]],[66,30,[-.1]],[67,1200,[-.2]],[68,2350,[-.3,-.4]],[67.5,2100,[-.4]],[68.5,750,[-.9,-1.2,-1.3]],[70,2200,[-.6,-.9]],[70.5,2350,[-.8]],[71.5,1000,[-.4]],
	[71.5,1200,[-1.6,-1.9,-2.1]],[72.5,1200,[-.4,-.8,-1.2,-1.6,-2,-2.4,-2.8,-3.2,-3.6,-3.9]],[73.5,1250,[-.2,-.5,-.9,-1.3,-1.7,-2.1,-2.5,-2.9,-3.3,-3.7,-4]],[74.5,1200,[-.2,-.6,-1,-1.4,-1.8,-2.2,-2.6,-3,-3.4,-3.8]],[75.5,1150,[-.2,-.6,-1,-1.4,-1.8,-2.2,-2.6,-3,-3.4,-3.7]],[76,1000,[-1.8,-2.2,-2.6,-3,-3.4,-3.7,-4]],
	[75,2350,[-.8,-1.1,-1.3,-1.8,-2.6]],[76,2350,[-1.7,-2,-3.2]],[75.2,1900,[-.6]],[77,2350,[-.6,-1.5,-2.1,-2.9]],
	[76.8,2100,[-.5,-1.8,-2.4,-2.9,-3.3,-3.7,-4.1,-4.5,-4.9,-5.1]],[77.6,2050,[-.2,-.7,-1.1,-1.5,-1.9,-2.3,-2.7,-3.1,-3.5,-3.9,-4.3,-4.7,-5.1,-5.5,-5.65]],[78.4,2150,[-.2,-.5,-1.2,-1.6,-2,-2.4,-2.8,-3.2,-3.6,-4,-4.4,-4.8,-5.2,-5.6]],[79,2000,[-.8,-1.4,-1.8,-2.2,-2.6,-3,-3.4,-3.8,-4.2,-4.6,-5]],[79.6,2100,[-.9,-1.3,-2.9]],[79.7,2350,[-1.45,-2.2,-2.9,-4.6]],[79.9,2350,[-2.5]],[76.5,1500,[-4.8]],[81,1150,[-.6]],[80.3,1000,[-2.2,-2.4]],[81.4,1100,[-2.5]],[82.7,1100,[-2.6]],[81.2,800,[-2.7]],[82.8,850,[-2]],[81.5,30,[-.2]],
	[84,1100,[-.5]],[85,1200,[-.4,-.9]],[86,2350,[-.4,-1.2]],[83.5,1100,[-.8]],[85.5,800,[-1.7,-2,-2.3,-2.6,-2.85]],[86.2,800,[-1.5,-1.9,-2.3,-2.7]],[87.3,800,[-2.2,-2.4]],[86,750,[-.9,-1.3]],[87,1000,[-.6]],
	[87.5,2050,[-.2,-.6,-1,-1.4,-1.6]],[88.2,2100,[-.1,-.4,-.8,-1.1,-1.35]],[89.2,2000,[-.2,-.5,-.8]],[90,2100,[-.2,-.4]],[90,30,[-.7,-1]],[91.1,30,[-.8]],[92,550,[-.4,-.7]],[92,30,[-.3]],[93.5,850,[-.4]],[94.5,30,[-.2,-1]],[95.5,30,[-.2]],[95.5,30,[-.5]],[96,400,[-.35]],[97.5,30,[-.2,-.5,-.8,-1.1]],[98,400,[-.6,-1]],[99,30,[-.3,-.6]],[99.2,30,[-1.1]],[100.6,600,[-.2]],[101,30,[-.5,-.8]],[102.5,30,[-.6,-.8]],[101.5,1200,[-.2]],[102.8,1200,[-.4]],[104.5,1200,[-.1]],[102.5,30,[-1.1]],[100,30,[-.1]],
	[106,800,[-.6,-1,-1.4,-1.7]],[107.5,800,[-.4,-.8,-1.2,-1.6]],[108.6,800,[-.2,-.5,-.9,-1.3,-1.6]],[110,750,[-.8,-1.3]],[110,30,[-.6,-.9]],[108.2,1300,[-.3,-.6]],[109.5,1100,[-.2,-.5]],[108,2350,[-.9]],
	[104,2050,[-.7,-1.1,-1.3]],[104.8,2050,[-.1,-.4,-.7,-1,-1.3,-1.6,-1.75]],[105.6,2000,[-.3,-.6,-.9,-1.2,-1.5,-1.85]],[106.3,2050,[-.2,-.5,-.8,-1.1,-1.4,-1.65]],[107,2000,[-.2,-.6,-.9,-1.2]],[103.5,2350,[-.7]],[105.5,2250,[-.5]]
];

const ekpyroticFill = [
	[23,155,[-2.5,-2.9,-3.4,-4.1,-4.4]],[24,175,[-2.6,-3,-3.4,-3.8,-4.3,-4.7]],[23.3,170,[-3.7,-4.2,-4.6,-5]],[24.5,170,[-3.7,-4.1,-4.6,-4.9]],[25,150,[-.8,-1.1,-1.4,-2,-2.6]],[24,150,[-.1,-.7,-1.1,-1.5]],
	[70.8,180,[-12.4,-12.8,-13.2]],[71.2,170,[-12.2,-12.7,-13,-13.4,-13.6]],[72.5,165,[-12.3,-12.8,-13.2,-13.6,-13.75]],[73,160,[-12.6,-13,-13.4]],[73.6,180,[-12.7,-13]],
	[93.6,160,[-9.7,-9.9,-10.1,-10.3]],[94.3,155,[-9.5,-9.8,-10.2,-10.5]],[94.8,155,[-9.6,-9.9,-10.2,-10.4]],[95,185,[-8.4,-8.8,-9.1,-9.4]],[93.8,195,[-8.7,-9.2,-9.6]],[94.6,200,[-8.2,-8.6,-9]]
];

const ekpyroticColumns = [
	[10,100,[-.05]],[10,170,[-.4,-.6]],[10,222,[-.2,-.75,-.95]],[10,160,[-1.1,-1.35]],[10,185,[-1.45]],[11.5,222,[-.4,-.75]],[13,222,[-.25]],[13,150,[-.05]],[14.5,160,[-.02]],[16,222,[-.25,-1.1]],[16,170,[-.05]],
	[17.5,222,[-.5,-1.35]],[17.5,160,[-.95]],[19,100,[-.6]],[19,170,[-.95]],[19,222,[-1.95]],[19,195,[-1.4]],[20.5,170,[-.75]],[20.5,222,[-1.1]],[20.5,172,[-1.8]],
	[22,150,[-.4,-.7,-1.5,-2.3,-2.7,-3,-3.8]],[22.3,140,[-.4,-.8,-1.4,-2.1,-2.8]],[22,195,[-1.3]],[21.8,170,[-1,-1.45]],[23,150,[-.4,-1.6,-3.7,-4.2,-4.6]],
	[23.5,165,[-.8,-1.1,-1.3,-3.9,-4.4,-4.9,-5.25]],[23,190,[-2.1,-3.3,-5.4]],[23.5,200,[-1,-2.1,-2.8]],[24,160,[-.4,-1.2,-1.8,-3.2,-3.6,-4,-4.5,-4.8]],[24,185,[-.6,-.9,-4.2,-5.1,-5.5]],[24.6,150,[-.2,-.5,-1.6,-2.4,-3,-3.6]],[24.5,200,[-1.7,-2.1,-2.7,-5.2]],
	[25,222,[-3.1,-4.95,-3.5]],[25,170,[-3.3,-4.2,-4.5,-5.1]],[25.5,190,[-1.6,-4.05,-3.9]],[25.5,145,[-.3,-2.2]],[26,165,[-.6,-.9,-1.1]],[26,195,[-.4,-1.2]],[27,150,[-.2,-.6,-.9]],[27.5,190,[-.4,-.8]],[28,172,[-1.3,-1.7]],[28.5,150,[-.9,-.4]],
	[23.8,195,[-6.15,-6.4,-6.6,-6.8]],[23.7,185,[-6.5,-6.75,-7,-7.25]],
	[26.5,100,[-2]],[28,100,[-2.3]],[29.5,100,[-2,-2.2,-3.2]],[29.5,222,[-1.2]],[31,100,[-.7,-1.8,-2,-2.8,-3,-3.3]],[31,150,[-.3]],[31,222,[-1]],[32.5,100,[-1.2,-2.6,-3,-3.3,-3.4]],
	[32.5,120,[-.2]],[32.5,170,[-.4,-.7,-1.4]],[32.5,222,[-.9,-1.2]],[34,100,[-.9,-1.5,-1.8,-2,-2.2,-2.5,-2.7,-3,-3.1]],[34,222,[-.2,-.6,-.8]],[34,170,[-1.2]],[34,200,[-.7]],[34,100,[-.9]],
	[35.5,222,[-.02]],[37,100,[-.05,-.8]],[37,222,[-.4,-.2,-1.4,-3,-4,-4.4]],[37,170,[-3.4]],[38.5,100,[-1.7,-2.1,-2.5]],[38.5,222,[-.7,-1]],[38.5,135,[-2.5]],[40,222,[-.9,-1.3,-1.9]],[40,113,[-.65]],[41.5,113,[-.5]],[41.5,100,[-1]],[43,222,[-3.1]],[43,185,[-2.4]],
	[44.5,100,[-.4,-2,-1.9]],[44.5,222,[-.2,-.7,-1.3]],[44.5,180,[-1.1]],[46,100,[-.3,-.5]],[47.5,222,[-1.9]],[47.5,100,[-2.8]],[49,222,[-.2,-.4,-2.6]],[49,100,[-.5,-.7,-.9,-1.3,-1.8]],[49,160,[-.6,-.9]],[50,222,[-1.3,-4.3]],[50,155,[-3.5]],
	[52,222,[-.3,-.9]],[52,160,[-.6]],[52,100,[-1.3]],[53.5,100,[-.02,-1.5,-3.8]],[53.5,222,[-1.8,-1.9]],[53.5,170,[-2]],[54.5,222,[-2.3,-3.5,-4.55,-5.2]],[54.5,195,[-2.8,-3,-3.9,-4.8]],[55.5,100,[-2.9,-3.3,-3.6,-2.4]],[55.5,200,[-.1,-1.7,-1.9,-2.7,-3.7,-5.6,-5.85]],
	[55.3,185,[-2.7,-4.6]],[55.3,165,[-5.95,-6.55]],[55.5,222,[-1.5,-5.2,-5.6]],[56,222,[-4.95,-5.3,-7.7,-8.2,-9,-9.55]],[55.6,170,[-7.8]],[56.5,200,[-2.2,-2.7,-5.2,-6.1,-6.3]],
	[57,222,[-1.3,-4.9,-5.6,-6.85,-7.3,-8.1,-9,-9.3]],[57,100,[-.3,-1.4,-2.2,-3,-3.9,-4.2]],[57,170,[-3.5,-3.9,-6.55,-7.7,-8.4]],[57,200,[-1.5,-2.5,-5.3,-6.1,-6.5]],[57.8,130,[-7.2]],[57.5,165,[-7.3,-8.4]],
	[58.5,222,[-.02,-2.3,-4.3,-5.9,-8,-8.45,-9.15,-9.4,-9.7,-9.95,-7.8]],[58.5,185,[-1.4,-3.5,-3.9,-5.3,-6.5,-7.4,-8,-8.85]],[58.5,160,[-1.9,-2.2]],[58.7,140,[-.3,-.9]],
	[60,100,[-.05,-.95,-1.2,-1.45,-2.8,-3.6,-4.05]],[60,160,[-.25,-2.45,-6.5,-7.3,-8]],[60,222,[-.5,-.7,-.9,-1.6,-2.5,-3.1,-3.3,-3.85,-5.45,-5.6,-6.15,-6.9,-7.7]],[60,135,[-4.15,-5.2,-6.9]],[60.2,185,[-8.4,-7.9]],
	[61.5,100,[-.6,-1.7,-2.1]],[61.5,222,[-7.4,-3.6]],[63,100,[-1,-1.2,-3.1,-3.6]],[63,222,[-2.9,-3.1]],[64.5,222,[-.1]],[64.5,120,[-1.5]],[64.5,100,[-.4,-.7,-1.1,-2.3]],[64.5,160,[-1.3]],[64.5,190,[-3.4]],
	[66,222,[-.9,-1.9,-2.9,-4.5,-5.3]],[66,160,[-1.35,-2.2]],[66,100,[-2.4,-2.6]],[66,150,[-5.7]],[66,113,[-8.65]],[67.5,190,[-1.45]],[67.5,222,[-.3,-.1]],[67.5,100,[-.6]],[67.5,155,[-3.1]],
	[69,185,[-7.2,-9.8,-9.95]],[69,222,[-3.5,-6.45,-7.35,-10.6]],[69,190,[-2.6]],[69,100,[-1.1,-1.2]],[69,150,[-10.1]],
	[70.5,100,[-.6,-4.65]],[70.5,222,[-1.9,-4.9,-10.1,-10.6]],[70.5,150,[-4.15,-5.2,-6.5,-9.4,-11.6]],[70.5,200,[-2.6,-10.6,-10.8]],[70.5,175,[-8.3,-9,-12.1,-12.6]],[70.5,145,[-.2,-4.3,-12,-13.1,-13.4]],[70.8,222,[-2.7]],
	[72,222,[-2.2,-2.9,-7.4,-7.7]],[72,185,[-.4,-3.6,-6.9,-8.1,-9.2,-11.1,-11.4]],[72,160,[-6.8,-7.7,-8.4,-8.6,-10.2]],[72,200,[-2.6,-4.7,-9,-11,-12.5,-13]],[71.6,170,[-12.1,-13.1,-13.55]],[72,150,[-13.2,-13.5]],[72,130,[-10.5]],
	[73.5,100,[-.2,-.7,-1.3,-1.5,-3.4]],[73.5,222,[-.6,-1.9,-2.8,-5.1]],[73.5,160,[-2.5,-11.5]],[73.5,195,[-8.5,-8.3,-7.4,-12.3,-12.9,-13.3]],[73.5,135,[-10.3,-8.9]],[73.5,185,[-9.6,-11.8,-13.1]],[73.5,165,[-6.9,-7.3,-12.5,-13.5]],[73,175,[-7.7,-11.2,-12.7]],[73.2,150,[-13.6,-13.7]],[74,170,[-10.2]],
	[75,222,[-.3,-.7,-1,-2.9,-7.2,-7.6]],[75,100,[-1.2,-1.5,-3.7,-3.9]],[75,150,[-2.5,-4.1,-4.3]],[75,170,[-5.1,-5.6,-6.2,-10.2]],[75,145,[-11.1,-11.4]],[75.2,185,[-8.2,-10.9]],
	[75.5,135,[-.8]],[75.7,180,[-2.3,-4.2]],[75.5,140,[-2.7,-3.3]],[76.5,100,[-.4,-1.2]],[76.5,222,[-.6,-1,-1.5,-2.4]],[76.5,170,[-4,-4.8,-8.9]],[78,100,[-1.2,-2.6]],[78,150,[-.5,-.8]],[78,222,[-.6,-1.7,-2.7]],[78,145,[-5]],
	[79.5,100,[-.6,-.9,-1.2,-1.5,-1.7,-1.9,-2.2]],[79.5,222,[-.8,-1.1,-1.2,-2.2]],[79.5,160,[-.5,-3.5,-4]],[81,100,[-.4,-.6,-.9,-1.7]],[81,135,[-1.8]],[81,222,[-1.5,-2.85,-4.95]],[82.5,170,[-3.9,-4.2]],
	[82.5,222,[-.8,-1.2,-2.85]],[85,100,[-.3,-.8,-1,-1.2,-2,-2.3,-2.7,-3.3,-4.95]],[85,222,[-.05,-1.7,-2.85,-3,-2.5,-3.8]],[85,150,[-.6,-1.5,-3.8]],[85,185,[-5.2,-5.3]],
	[86.5,160,[-.4]],[86.5,100,[-2.6]],[86.5,130,[-2.2]],[88,222,[-.05,-.6]],[88,185,[-.4,-1.6,-2.1]],[88,100,[-1,-2.1]],[88,125,[-2.3]],[89.5,200,[-3.4]],[89.5,100,[-.8,-1.9,-2.3,-4.7]],[89.5,222,[-.1,-.6,-3]],[89.5,185,[-.3,-.4]],[89.5,113,[-.7]],
	[91,222,[-1.2,-4.1,-3.9,-4.4,-5.5]],[91,100,[-.05,-2.4,-2.7,-3.1,-4.7,-4.95]],[91,125,[-3.8,-4.1]],[91,170,[-1.3,-1.6,-2,-2.5,-3.1,-3.6,-4.7,-5.2]],[91,150,[-.1,-.4,-2.4]],[91.5,200,[-1.3,-5.1]],[91.5,185,[-1.9,-3.4]],[92.5,100,[-2.8]],
	[92.5,185,[-1.6,-2.2,-2.9,-3.4,-4.3,-6,-6.4]],[92.5,222,[-.1,-1.3,-4.4,-6]],[92.5,160,[-.9,-2.5]],[93,200,[-.5,-1.6,-4,-4.5]],[93,100,[-2.8,-5,-5.2,-5.8]],[93,125,[-6,-6.9,-7.5]],[93,170,[-5.2,-5.5,-6.3,-7.6]],[93.2,200,[-8.6,-9.1]],
	[94,100,[-2.7,-.1,-1.5,-3.2,-4.7,-5.3,-5.6]],[94,140,[-.5,-5]],[94,170,[-1.1,-1.7,-2.5,-3.2,-3.6,-3.9,-4.4,-5.5,-6.4,-7.1,-7.5,-8.2,-9.3]],[94,200,[-1.9,-4.8,-6.6,-8.8,-9.4,-9.7,-9.9]],[94,155,[-8.6,-10,-10.2,-10.3,-10.4]],[94.2,222,[-3.1,-6,-6.8,-7,-10]],[94.4,160,[-9.7,-10.1,-10.55]],
	[95.5,100,[-.05,-2,-2.9,-3.3,-5.6,-5.9]],[95.5,222,[-.1,-1.1,-2,-4.2,-5.1,-5.4,-8,-9.1,-9.4]],[95.5,170,[-.6,-1.1,-1.5,-2.3,-4.5,-5.7,-6.4,-7.7,-8.4,-9.3,-9.8]],[95.5,200,[-3.1,-5,-6.2,-6.6,-8.6,-9]],[95.5,140,[-.9,-5.5]],[95.5,185,[-7.6,-8.3,-9.6,-9.9]],[95.5,160,[-1.2,-1.8,-3.6,-8.1,-10.2]],
	[97,100,[-.05,-2.3,-3.4,-5.1]],[97,170,[-.2,-.6,-.9,-1.7,-3.3,-4.4,-6,-6.4,-7.6,-8.3,-8.9]],[97,200,[-.6,-2,-3.5,-4.7,-6.5]],[97,140,[-2.1,-6.8]],[97,150,[-1.5,-2.9,-4.1,-5.1]],[97,222,[-.4,-4.6,-6.2]],[97.4,160,[-8.2]],
	[98.5,100,[-1.9,-2.4,-3.1,-4.5,-5.8]],[98.5,222,[-1.8,-2.3,-5.6,-6]],[98.5,170,[-.05,-.6,-1,-2.7,-3,-4.4]],[98.5,120,[-6.5,-7]],[98.5,195,[-3.2,-6.3]],[100,100,[-.4,-1.4,-1.9,-3.1,-3.5,-5.8]],[100,222,[-.9,-2.3,-2.5]],[100,150,[-1.2,-4.3]],[100,122,[-1.6,-3]],[100,125,[-5]],[100,170,[-.1,-.3,-3.7]],
	[101.5,100,[-.6,-.05,-2.1,-2.2,-3.9,-4.4,-4.7]],[101.5,222,[-.7,-2.1,-2.2]],[101.5,150,[-1.2,-3.2,-3.9,-4.2]],[101.5,135,[-2.5]],[101.5,110,[-3]],[101.5,180,[-.4]],
	[103,100,[-.1,-1.3,-1.8,-2,-3.7,-4.3,-4.5]],[103,222,[-.4,-.9]],[103,185,[-2.8,-3]],[103,150,[-1.2,-3.5,-3.9]],[103,135,[-3.6]],[104.5,100,[-1.3,-2.1,-2.5,-2.9,-3.5,-3.7]],[104.5,170,[-1.1,-1.4,-4.4,-4.6,-4.9]],[104.5,222,[-1.7,-1.9,-2.2,-4]],[104.5,200,[-1.9,-2.9]],[104.5,150,[-2,-2.5,-3.1]],[104.5,135,[-3.3,-3.6,-4.7]],
	[106,100,[-.5,-2.3,-2.5,-.8]],[106,222,[-.2,-.5,-.7,-1,-1.6,-1.8,-2.4]],[106,150,[-1.6,-1.9,-2.1]],[106,180,[-.1,-5.4]],[107.5,222,[-.3,-.45]],[107.5,100,[-1,-2.8,-3,-4,-4.9]],[107.5,135,[-.8,-1.1]],[107.5,145,[-2]],[107.5,185,[-3.5]],[107.5,150,[-5.3]],
	[109.5,100,[-.1,-.4,-1.1,-2.2,-3.6,-4.2]],[109.5,160,[-.7,-1.3,-1.8,-5.6,-6.7]],[109.5,222,[-1,-2.9,-5.2]],[109.5,185,[-3.3,-3.9]]
];

const xTicks = [0, 25, 50, 75, 100];
const xMinorTicks = [5, 10, 15, 20, 30, 35, 40, 45, 55, 60, 65, 70, 80, 85, 90, 95, 105, 110];
const yTicks = [-15, -10, -5];
const yMinorTicks = [-14, -13, -12, -11, -9, -8, -7, -6, -4, -3, -2, -1];
const pscTicks = [0, 500, 1000, 1500, 2000];
const ekpyroticTicks = [100, 120, 140, 160, 180, 200, 220];
const panelNames = ["Inflation", "Bounce", "Ekpyrotic"];

// picture is stretched sideways, so draw in narrower units and let the viewBox widen it
const stretch = 1.17;
const svgWidth = 1085;
const svgHeight = 1282;
const unitWidth = svgWidth / stretch;
const svg = d3.select("svg")
	.attr("width", svgWidth)
	.attr("height", svgHeight)
	.attr("viewBox", `0 0 ${unitWidth} ${svgHeight}`)
	.attr("preserveAspectRatio", "none");

const left = 120 / stretch;
const right = 888 / stretch;
const barLeft = 935.5 / stretch;
const barRight = 958 / stretch;
const panelHeight = 390;
const panelTops = [11, 421, 830];
const tickFont = 22;

const xScale = d3.scaleLinear().domain([0, 110]).range([left, right]);
const yScale = d3.scaleLinear().domain([-15, -0.1]).range([panelHeight, 0]);

function flatten(columns) {
	return columns.flatMap(c => c[2].map(v => ({x: c[0], y: v, l: c[1]})));
}

function drawAxis(g, axis, ticks, size, labelled, transform) {
	g.append("g")
		.attr("transform", transform)
		.call(axis.tickValues(ticks).tickSizeInner(size).tickSizeOuter(0).tickFormat(labelled ? d3.format("d") : ""))
		.call(a => a.select(".domain").remove())
		.call(a => a.selectAll("line").attr("stroke", "#000").attr("stroke-width", 1.4))
		.call(a => a.selectAll("text").attr("font-size", tickFont));
}

function drawPanel(i, layers, logPoints, lrDomain, lrTicks) {
	const top = panelTops[i];
	const g = svg.append("g").attr("transform", `translate(0, ${top})`);
	const clipId = `clip${i}`;
	const colorScale = d3.scaleSequential(t => d3.interpolateViridis(1 - t)).domain(lrDomain);

	svg.append("clipPath").attr("id", clipId)
		.append("rect")
			.attr("x", left)
			.attr("y", 0)
			.attr("width", right - left)
			.attr("height", panelHeight);

	const plot = g.append("g").attr("clip-path", `url(#${clipId})`);

	plot.selectAll("circle.psc")
		.data(layers.flatMap(flatten))
		.enter()
		.append("circle")
			.attr("class", "psc")
			.attr("cx", d => xScale(d.x))
			.attr("cy", d => yScale(d.y))
			.attr("r", 4.8)
			.attr("fill", d => colorScale(d.l));

	plot.selectAll("circle.log")
		.data(logPoints.flatMap(c => c[1].map(v => ({x: c[0], y: v}))))
		.enter()
		.append("circle")
			.attr("class", "log")
			.attr("cx", d => xScale(d.x))
			.attr("cy", d => yScale(d.y))
			.attr("r", 4.1)
			.attr("fill", "#000")
			.attr("fill-opacity", 0.75);

	// Axes, ticks point inward on all four sides
	const last = i === panelTops.length - 1;
	drawAxis(g, d3.axisBottom(xScale).tickPadding(8), xTicks, -8, last, `translate(0, ${panelHeight})`);
	drawAxis(g, d3.axisBottom(xScale), xMinorTicks, -4, false, `translate(0, ${panelHeight})`);
	drawAxis(g, d3.axisTop(xScale), xTicks, -8, false, "translate(0, 0)");
	drawAxis(g, d3.axisTop(xScale), xMinorTicks, -4, false, "translate(0, 0)");
	drawAxis(g, d3.axisLeft(yScale).tickPadding(9), yTicks, -8, true, `translate(${left}, 0)`);
	drawAxis(g, d3.axisLeft(yScale), yMinorTicks, -4, false, `translate(${left}, 0)`);
	drawAxis(g, d3.axisRight(yScale), yTicks, -8, false, `translate(${right}, 0)`);
	drawAxis(g, d3.axisRight(yScale), yMinorTicks, -4, false, `translate(${right}, 0)`);

	g.append("rect")
		.attr("x", left)
		.attr("y", 0)
		.attr("width", right - left)
		.attr("height", panelHeight)
		.attr("fill", "none")
		.attr("stroke", "#000")
		.attr("stroke-width", 1.7);

	// Panel name
	g.append("text")
		.text(panelNames[i])
		.attr("x", xScale(5.6))
		.attr("y", yScale(-13.8))
		.attr("font-size", 31.5);

	// Y label
	const yLabel = g.append("text")
		.attr("transform", `translate(${32 / stretch}, ${yScale(-7.45)}) rotate(-90)`)
		.attr("text-anchor", "middle")
		.attr("font-size", tickFont);
	yLabel.append("tspan").text("Δ");
	yLabel.append("tspan").text("χ").attr("font-style", "italic");
	yLabel.append("tspan").text("2").attr("font-size", 15).attr("dy", -8);

	// Colour bar
	const gradId = `grad${i}`;
	svg.append("linearGradient").attr("id", gradId)
		.attr("x1", 0).attr("x2", 0).attr("y1", 1).attr("y2", 0)
		.selectAll("stop")
		.data(d3.ticks(0, 1, 20))
		.enter()
		.append("stop")
			.attr("offset", d => d)
			.attr("stop-color", d => d3.interpolateViridis(1 - d));

	g.append("rect")
		.attr("x", barLeft)
		.attr("y", 0)
		.attr("width", barRight - barLeft)
		.attr("height", panelHeight)
		.attr("fill", `url(#${gradId})`)
		.attr("stroke", "#000")
		.attr("stroke-width", 1.5);

	const barScale = d3.scaleLinear().domain(lrDomain).range([panelHeight, 0]);
	drawAxis(g, d3.axisRight(barScale).tickPadding(9), lrTicks, 7, true, `translate(${barRight}, 0)`);

	g.append("text")
		.attr("transform", `translate(${1073 / stretch}, ${panelHeight / 2 + 1}) rotate(-90)`)
		.attr("text-anchor", "middle")
		.attr("font-size", 24)
		.call(t => t.append("tspan").text("ℓ").attr("font-style", "italic"))
		.call(t => t.append("tspan").text("r").attr("font-style", "italic").attr("font-size", 16).attr("dy", 4));
}

drawPanel(0, [inflationBand, inflationFill, inflationBandGreen, inflationDips, inflationDipFill], inflationLog, [-33, 2424], pscTicks);
drawPanel(1, [bounceTop, bounceFill, bounceColumns], [], [-35, 2422], pscTicks);
drawPanel(2, [ekpyroticFill, ekpyroticColumns], [], [100, 225], ekpyroticTicks);

// X label
const xLabel = svg.append("text")
	.attr("x", xScale(55))
	.attr("y", 1275)
	.attr("text-anchor", "middle")
	.attr("font-size", tickFont);
xLabel.append("tspan").text("ω").attr("font-style", "italic");
xLabel.append("tspan").text("X").attr("font-size", 15).attr("dy", 2);

// Legend
const legend = svg.append("g");
legend.append("rect")
	.attr("x", 552 / stretch)
	.attr("y", 349)
	.attr("width", 323 / stretch)
	.attr("height", 40)
	.attr("rx", 4)
	.attr("fill", "#fff")
	.attr("stroke", "#ccc")
	.attr("stroke-width", 1.4);
legend.append("circle")
	.attr("cx", 589 / stretch)
	.attr("cy", 368)
	.attr("r", 4.1)
	.attr("fill", "#000")
	.attr("fill-opacity", 0.75);
legend.append("circle")
	.attr("cx", 765 / stretch)
	.attr("cy", 369)
	.attr("r", 4.8)
	.attr("fill", "#1f77b4");
legend.append("text").text("Log").attr("x", 638 / stretch).attr("y", 376).attr("font-size", 22);
legend.append("text").text("PSC").attr("x", 813 / stretch).attr("y", 376).attr("font-size", 22);
</script>
</body>
</html>
